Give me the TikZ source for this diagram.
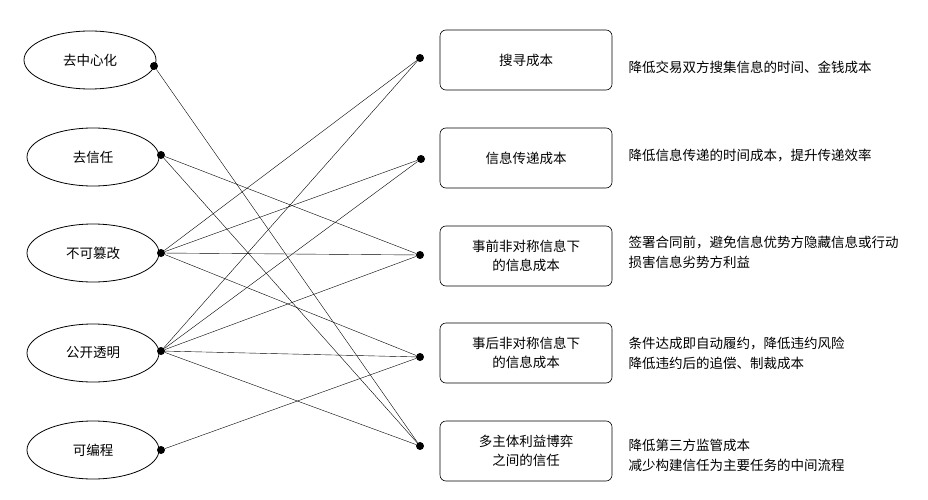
\documentclass[tikz,border=0pt]{standalone}
\usepackage{fontspec}
\newfontfamily\cjk{Noto Sans CJK SC}
\usetikzlibrary{shapes.geometric}
\begin{document}
\begin{tikzpicture}[x=1pt,y=-1pt,
	feature/.style={draw,thick,ellipse,minimum width=132pt,minimum height=58pt,font=\cjk\fontsize{13.5}{16}\selectfont},
	cost/.style={draw,semithick,rounded corners=6pt,minimum width=172pt,minimum height=60pt,align=center,font=\cjk\fontsize{13.5}{19}\selectfont},
	note/.style={anchor=west,align=left,font=\cjk\fontsize{13.5}{20}\selectfont},
	dot/.style={circle,fill,inner sep=0pt,minimum size=8pt},
	link/.style={thin}]
	\useasboundingbox (0,0) rectangle (928,500);
	% left features
	\node[feature] (f1) at (90,60)  {去中心化};
	\node[feature] (f2) at (93,157) {去信任};
	\node[feature] (f3) at (93,253) {不可篡改};
	\node[feature] (f4) at (93,353) {公开透明};
	\node[feature] (f5) at (93,450) {可编程};
	\node[dot] (l1) at (154,66)  {};
	\node[dot] (l2) at (161,155) {};
	\node[dot] (l3) at (161,253) {};
	\node[dot] (l4) at (161,351) {};
	\node[dot] (l5) at (161,450) {};
	% right costs
	\node[cost] (c1) at (526,60)  {搜寻成本};
	\node[cost] (c2) at (526,158) {信息传递成本};
	\node[cost] (c3) at (526,256) {事前非对称信息下\\的信息成本};
	\node[cost] (c4) at (526,353) {事后非对称信息下\\的信息成本};
	\node[cost] (c5) at (526,451) {多主体利益博弈\\之间的信任};
	\node[dot] (r1) at (420,58)  {};
	\node[dot] (r2) at (421,159) {};
	\node[dot] (r3) at (420,255) {};
	\node[dot] (r4) at (420,357) {};
	\node[dot] (r5) at (420,446) {};
	% notes
	\node[note] (n1) at (625,67)  {降低交易双方搜集信息的时间、金钱成本};
	\node[note] (n2) at (625,155) {降低信息传递的时间成本，提升传递效率};
	\node[note] (n3) at (625,252) {签署合同前，避免信息优势方隐藏信息或行动\\损害信息劣势方利益};
	\node[note] (n4) at (625,353) {条件达成即自动履约，降低违约风险\\降低违约后的追偿、制裁成本};
	\node[note] (n5) at (625,455) {降低第三方监管成本\\减少构建信任为主要任务的中间流程};
	% links
	\draw[link] (l1) -- (r5);
	\foreach \r in {r3,r5} \draw[link] (l2) -- (\r);
	\foreach \r in {r1,r2,r3,r4} \draw[link] (l3) -- (\r);
	\foreach \r in {r1,r2,r3,r4,r5} \draw[link] (l4) -- (\r);
	\draw[link] (l5) -- (r4);
\end{tikzpicture}
\end{document}
